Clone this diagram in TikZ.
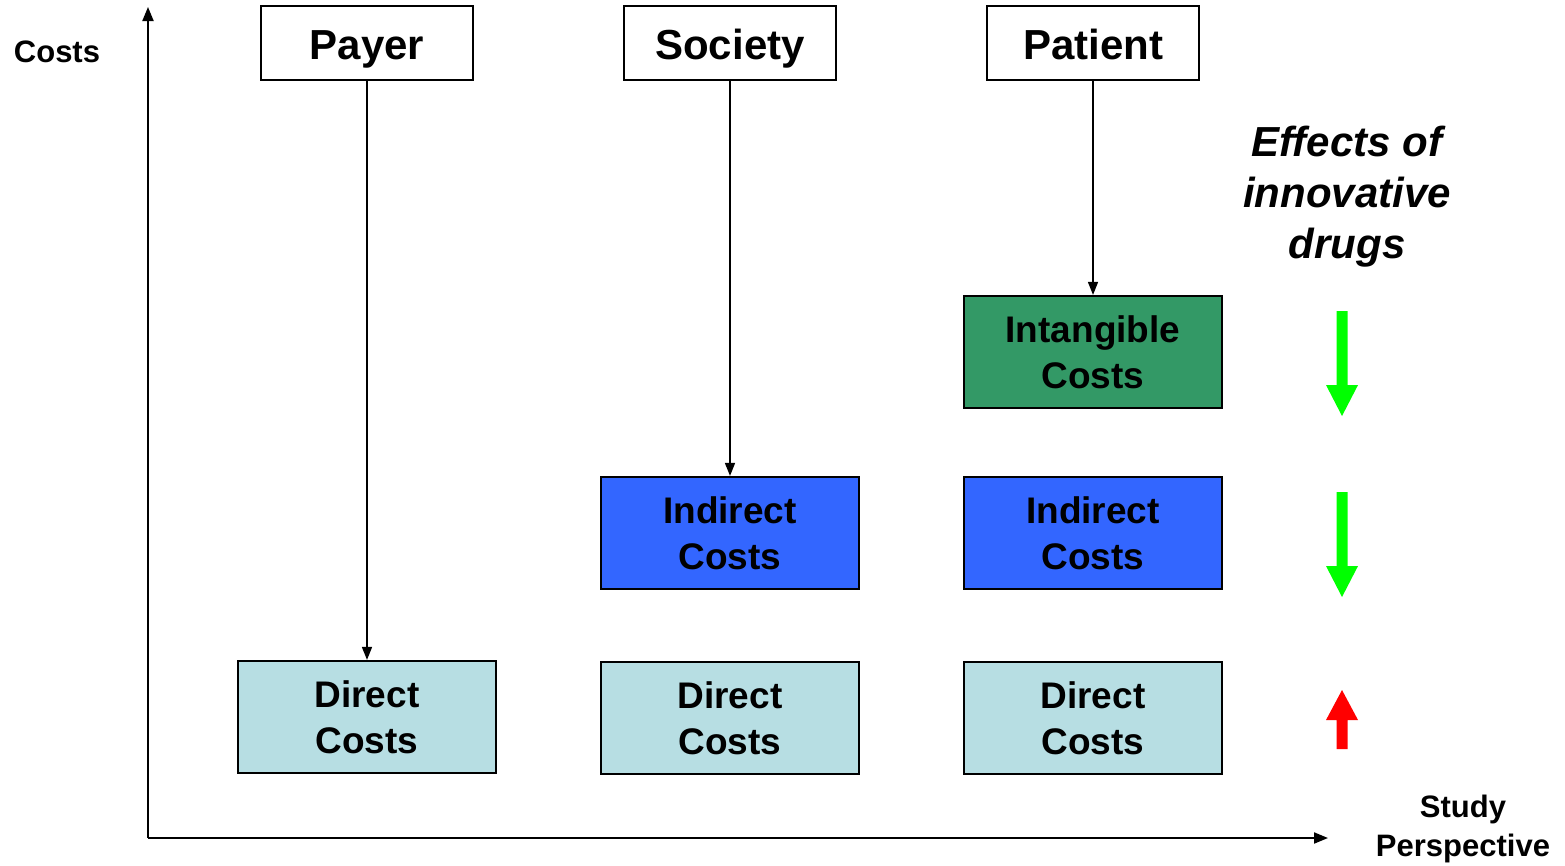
\documentclass[tikz,border=0pt]{standalone}
\usepackage{fontspec}
\setmainfont{Liberation Sans}
\usetikzlibrary{arrows.meta}
\definecolor{intang}{HTML}{339966}
\definecolor{indir}{HTML}{3366FF}
\definecolor{direct}{HTML}{B7DEE3}
\definecolor{downg}{HTML}{00FF00}
\definecolor{upr}{HTML}{FF0000}
\tikzset{
  persp/.style={draw=black, line width=2pt, fill=white, minimum width=212pt, minimum height=74pt, inner sep=0pt,
    text height=40pt, text depth=8pt, font=\fontsize{42}{48}\selectfont\bfseries},
  costbox/.style={draw=black, line width=2.2pt, minimum width=258pt, minimum height=112pt, inner sep=0pt, align=center,
    font=\fontsize{37}{46}\selectfont\bfseries},
  conn/.style={line width=1.5pt, -{Triangle[length=13pt,width=10pt]}},
  axis/.style={line width=2pt, -{Triangle[length=14pt,width=11pt]}},
  lbl/.style={font=\fontsize{31}{39}\selectfont\bfseries, align=center, inner sep=0pt},
  blockarrow/.style={draw=none}
}
\begin{document}
\begin{tikzpicture}[x=1pt,y=-1pt]
\useasboundingbox (0,0) rectangle (1565,865);
% axes
\coordinate (o) at (148,838);
\coordinate (ytip) at (148,7);
\coordinate (xtip) at (1328,838);
\draw[axis] (o) -- (ytip);
\draw[axis] (o) -- (xtip);
\node[lbl] (costs) at (57,52) {Costs};
\node[lbl] (study) at (1463,829) {Study\\Perspective};
% perspectives
\node[persp] (payer) at (367,43) {Payer};
\node[persp] (society) at (730,43) {Society};
\node[persp] (patient) at (1093,43) {Patient};
% cost boxes
\node[costbox, fill=intang] (intang) at (1093,352) {Intangible\\Costs};
\node[costbox, fill=indir] (ind1) at (730,533) {Indirect\\Costs};
\node[costbox, fill=indir] (ind2) at (1093,533) {Indirect\\Costs};
\node[costbox, fill=direct] (dir1) at (367,717) {Direct\\Costs};
\node[costbox, fill=direct] (dir2) at (730,718) {Direct\\Costs};
\node[costbox, fill=direct] (dir3) at (1093,718) {Direct\\Costs};
% connectors
\draw[conn] (payer.south) -- (dir1.north);
\draw[conn] (society.south) -- (ind1.north);
\draw[conn] (patient.south) -- (intang.north);
% effects
\node[font=\fontsize{42}{51}\selectfont\bfseries\itshape, align=center, inner sep=0pt] (effects) at (1347,197) {Effects of\\innovative\\drugs};
% block arrows
\fill[downg] (1336.5,311) -- (1347.5,311) -- (1347.5,385) -- (1358,385) -- (1342,416) -- (1326,385) -- (1336.5,385) -- cycle;
\fill[downg] (1336.5,492) -- (1347.5,492) -- (1347.5,566) -- (1358,566) -- (1342,597) -- (1326,566) -- (1336.5,566) -- cycle;
\fill[upr] (1336.5,749) -- (1347.5,749) -- (1347.5,720) -- (1358,720) -- (1342,690) -- (1326,720) -- (1336.5,720) -- cycle;
\end{tikzpicture}
\end{document}
